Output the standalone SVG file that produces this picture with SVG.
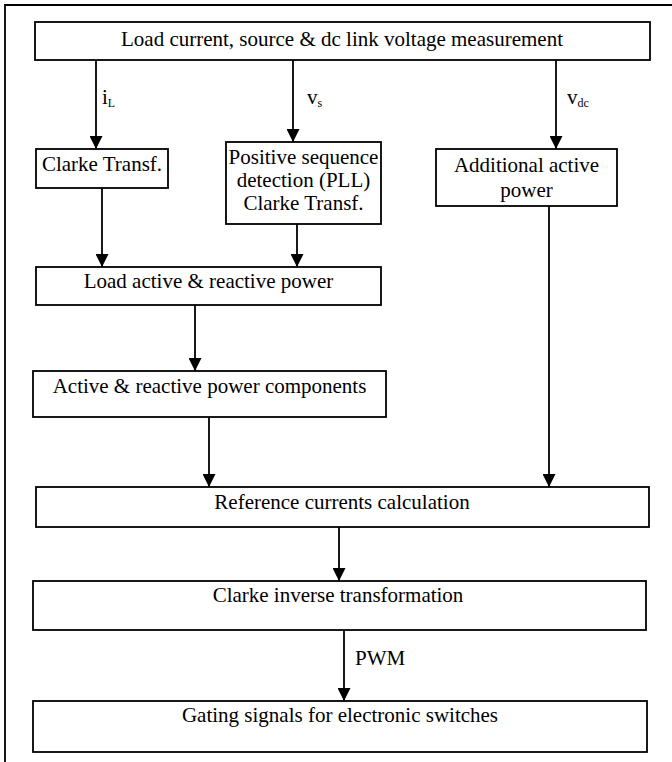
<svg xmlns="http://www.w3.org/2000/svg" width="672" height="762" viewBox="0 0 672 762">
<defs>
<marker id="ah" markerWidth="13" markerHeight="13" refX="13" refY="6.5" orient="auto" markerUnits="userSpaceOnUse" viewBox="0 0 13 13">
<path d="M0,0 L13,6.5 L0,13 z" fill="#000"/>
</marker>
<style>
.box{fill:#fff;stroke:#000;stroke-width:1.8}
.t{font-family:"Liberation Serif","Times New Roman",serif;font-size:21px;fill:#000;text-anchor:middle}
.l{font-family:"Liberation Serif","Times New Roman",serif;font-size:21px;fill:#000}
.s{font-size:12px}
.c{stroke:#000;stroke-width:1.8;fill:none;marker-end:url(#ah)}
</style>
</defs>
<rect x="0" y="0" width="672" height="762" fill="#fff"/>
<path d="M5,762 V5 H672" fill="none" stroke="#000" stroke-width="1.8"/>
<g id="connectors">
<line class="c" x1="96" y1="60" x2="96" y2="149"/>
<line class="c" x1="293" y1="60" x2="293" y2="142"/>
<line class="c" x1="556" y1="60" x2="556" y2="149"/>
<line class="c" x1="102" y1="188" x2="102" y2="267"/>
<line class="c" x1="297" y1="224" x2="297" y2="267"/>
<line class="c" x1="195" y1="305" x2="195" y2="371"/>
<line class="c" x1="209" y1="417" x2="209" y2="487"/>
<line class="c" x1="549" y1="206" x2="549" y2="487"/>
<line class="c" x1="339" y1="527" x2="339" y2="581"/>
<line class="c" x1="344" y1="630" x2="344" y2="701"/>
<text class="l" x="102" y="104">i<tspan class="s" dy="3">L</tspan></text>
<text class="l" x="307" y="104">v<tspan class="s" dy="3">s</tspan></text>
<text class="l" x="567" y="104">v<tspan class="s" dy="3">dc</tspan></text>
<text class="l" x="355" y="665">PWM</text>
</g>
<g id="n1"><rect class="box" x="35" y="22" width="615" height="38"/><text class="t" x="342" y="46">Load current, source &amp; dc link voltage measurement</text></g>
<g id="n2"><rect class="box" x="36" y="149" width="132" height="39"/><text class="t" x="102" y="171">Clarke Transf.</text></g>
<g id="n3"><rect class="box" x="226" y="142" width="155" height="82"/><text class="t" x="303.5" y="164">Positive sequence</text><text class="t" x="303.5" y="187">detection (PLL)</text><text class="t" x="303.5" y="210">Clarke Transf.</text></g>
<g id="n4"><rect class="box" x="436" y="149" width="181" height="57"/><text class="t" x="526.5" y="172">Additional active</text><text class="t" x="526.5" y="197">power</text></g>
<g id="n5"><rect class="box" x="36" y="267" width="345" height="38"/><text class="t" x="208.5" y="288">Load active &amp; reactive power</text></g>
<g id="n6"><rect class="box" x="33" y="371" width="353" height="46"/><text class="t" x="209.5" y="393">Active &amp; reactive power components</text></g>
<g id="n7"><rect class="box" x="36" y="487" width="613" height="40"/><text class="t" x="342" y="509">Reference currents calculation</text></g>
<g id="n8"><rect class="box" x="33" y="581" width="613" height="49"/><text class="t" x="338" y="602">Clarke inverse transformation</text></g>
<g id="n9"><rect class="box" x="33" y="701" width="614" height="51"/><text class="t" x="340" y="722">Gating signals for electronic switches</text></g>
</svg>
